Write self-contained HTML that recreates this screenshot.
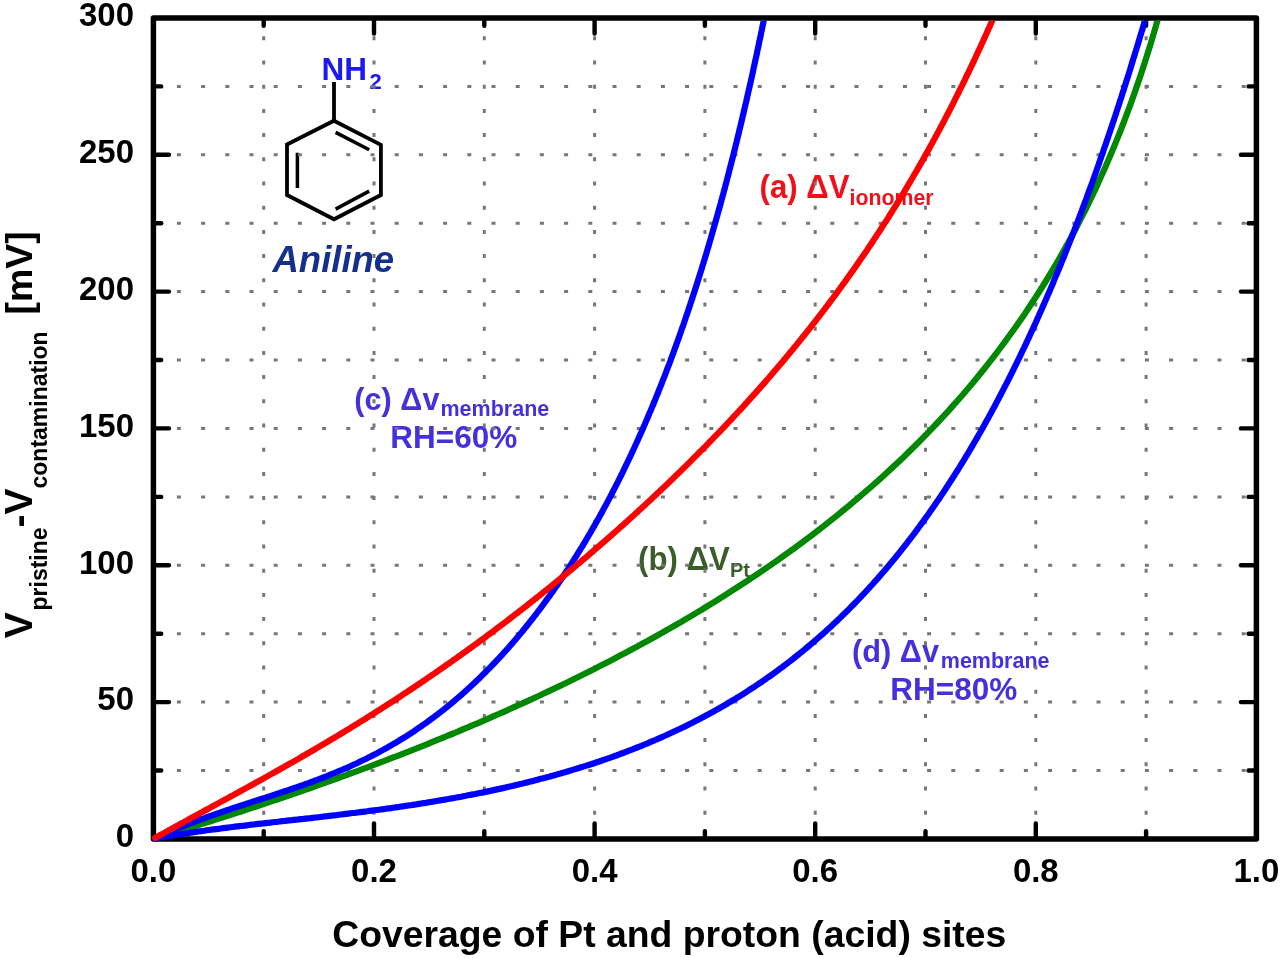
<!DOCTYPE html>
<html><head><meta charset="utf-8"><style>
html,body{margin:0;padding:0;background:#fff;width:1280px;height:958px;overflow:hidden}
svg{display:block;font-family:"Liberation Sans",sans-serif;font-weight:bold;filter:blur(0.5px)}
</style></head><body>
<svg width="1280" height="958" viewBox="0 0 1280 958">
<rect width="1280" height="958" fill="#fff"/>
<g fill="#f0101a">
<text transform="translate(759.5,197.6) scale(0.96,1)" font-size="32.5">(a) &#916;V</text>
<text transform="translate(849.5,204.8) scale(0.97,1)" font-size="22">ionomer</text>
</g>
<g fill="#3a5e2a">
<text transform="translate(638.1,570.3) scale(0.96,1)" font-size="32.5">(b) &#916;V</text>
<text transform="translate(730,576.6)" font-size="20">Pt</text>
</g>
<g fill="#4630dc">
<text transform="translate(354.3,409.5) scale(0.96,1)" font-size="32">(c) &#916;v</text>
<text transform="translate(440.5,415.8)" font-size="21.5">membrane</text>
<text transform="translate(390.3,448.3) scale(0.985,1)" font-size="32">RH=60%</text>
</g>
<g transform="translate(497.8,252)" fill="#4630dc">
<text transform="translate(354.3,409.5) scale(0.96,1)" font-size="32">(d) &#916;v</text>
<text transform="translate(443,415.8)" font-size="21.5">membrane</text>
<text transform="translate(392.5,448.3) scale(0.985,1)" font-size="32">RH=80%</text>
</g>
<g stroke="#000" stroke-width="3.8" fill="none" stroke-linejoin="miter" stroke-linecap="butt">
<path d="M334,120.7 L380.9,144.9 L380.9,195 L334,219.3 L287,195 L287,144.5 Z"/>
<path d="M334,120.7 L334,82"/>
<path stroke-width="3.5" d="M297.4,152.8 L297.4,188 M335.6,132.4 L369.2,149.8 M335.6,209.1 L369.2,191.1"/>
</g>
<text x="321.5" y="80" font-size="31.5" fill="#1a1af5">NH</text>
<text x="369.5" y="89.3" font-size="22" fill="#1a1af5">2</text>
<text x="272.5" y="271.5" font-size="36.5" font-style="italic" fill="#15308a">Aniline</text>
<g stroke="#777777" stroke-width="3" stroke-dasharray="4 20.2" fill="none">
<line x1="263.7" y1="36.3" x2="263.7" y2="835.9"/>
<line x1="374.0" y1="36.3" x2="374.0" y2="835.9"/>
<line x1="484.3" y1="36.3" x2="484.3" y2="835.9"/>
<line x1="594.6" y1="36.3" x2="594.6" y2="835.9"/>
<line x1="704.9" y1="36.3" x2="704.9" y2="835.9"/>
<line x1="815.2" y1="36.3" x2="815.2" y2="835.9"/>
<line x1="925.5" y1="36.3" x2="925.5" y2="835.9"/>
<line x1="1035.8" y1="36.3" x2="1035.8" y2="835.9"/>
<line x1="1146.1" y1="36.3" x2="1146.1" y2="835.9"/>
<line x1="176.9" y1="770.5" x2="1253.4" y2="770.5"/>
<line x1="176.9" y1="702.1" x2="1253.4" y2="702.1"/>
<line x1="176.9" y1="633.7" x2="1253.4" y2="633.7"/>
<line x1="176.9" y1="565.3" x2="1253.4" y2="565.3"/>
<line x1="176.9" y1="496.9" x2="1253.4" y2="496.9"/>
<line x1="176.9" y1="428.4" x2="1253.4" y2="428.4"/>
<line x1="176.9" y1="360.0" x2="1253.4" y2="360.0"/>
<line x1="176.9" y1="291.6" x2="1253.4" y2="291.6"/>
<line x1="176.9" y1="223.2" x2="1253.4" y2="223.2"/>
<line x1="176.9" y1="154.8" x2="1253.4" y2="154.8"/>
<line x1="176.9" y1="86.4" x2="1253.4" y2="86.4"/>
</g>
<g stroke="#000" stroke-width="4.4" stroke-linecap="round" fill="none">
<line x1="263.7" y1="838.9" x2="263.7" y2="831.1"/>
<line x1="263.7" y1="18.0" x2="263.7" y2="25.8"/>
<line x1="374.0" y1="838.9" x2="374.0" y2="823.4"/>
<line x1="374.0" y1="18.0" x2="374.0" y2="33.5"/>
<line x1="484.3" y1="838.9" x2="484.3" y2="831.1"/>
<line x1="484.3" y1="18.0" x2="484.3" y2="25.8"/>
<line x1="594.6" y1="838.9" x2="594.6" y2="823.4"/>
<line x1="594.6" y1="18.0" x2="594.6" y2="33.5"/>
<line x1="704.9" y1="838.9" x2="704.9" y2="831.1"/>
<line x1="704.9" y1="18.0" x2="704.9" y2="25.8"/>
<line x1="815.2" y1="838.9" x2="815.2" y2="823.4"/>
<line x1="815.2" y1="18.0" x2="815.2" y2="33.5"/>
<line x1="925.5" y1="838.9" x2="925.5" y2="831.1"/>
<line x1="925.5" y1="18.0" x2="925.5" y2="25.8"/>
<line x1="1035.8" y1="838.9" x2="1035.8" y2="823.4"/>
<line x1="1035.8" y1="18.0" x2="1035.8" y2="33.5"/>
<line x1="1146.1" y1="838.9" x2="1146.1" y2="831.1"/>
<line x1="1146.1" y1="18.0" x2="1146.1" y2="25.8"/>
<line x1="153.4" y1="770.5" x2="161.2" y2="770.5"/>
<line x1="1256.4" y1="770.5" x2="1248.6" y2="770.5"/>
<line x1="153.4" y1="702.1" x2="168.9" y2="702.1"/>
<line x1="1256.4" y1="702.1" x2="1240.9" y2="702.1"/>
<line x1="153.4" y1="633.7" x2="161.2" y2="633.7"/>
<line x1="1256.4" y1="633.7" x2="1248.6" y2="633.7"/>
<line x1="153.4" y1="565.3" x2="168.9" y2="565.3"/>
<line x1="1256.4" y1="565.3" x2="1240.9" y2="565.3"/>
<line x1="153.4" y1="496.9" x2="161.2" y2="496.9"/>
<line x1="1256.4" y1="496.9" x2="1248.6" y2="496.9"/>
<line x1="153.4" y1="428.4" x2="168.9" y2="428.4"/>
<line x1="1256.4" y1="428.4" x2="1240.9" y2="428.4"/>
<line x1="153.4" y1="360.0" x2="161.2" y2="360.0"/>
<line x1="1256.4" y1="360.0" x2="1248.6" y2="360.0"/>
<line x1="153.4" y1="291.6" x2="168.9" y2="291.6"/>
<line x1="1256.4" y1="291.6" x2="1240.9" y2="291.6"/>
<line x1="153.4" y1="223.2" x2="161.2" y2="223.2"/>
<line x1="1256.4" y1="223.2" x2="1248.6" y2="223.2"/>
<line x1="153.4" y1="154.8" x2="168.9" y2="154.8"/>
<line x1="1256.4" y1="154.8" x2="1240.9" y2="154.8"/>
<line x1="153.4" y1="86.4" x2="161.2" y2="86.4"/>
<line x1="1256.4" y1="86.4" x2="1248.6" y2="86.4"/>
</g>
<rect x="153.4" y="18.0" width="1103.0" height="820.9" fill="none" stroke="#000" stroke-width="5.5" stroke-linejoin="round"/>
<clipPath id="pc"><rect x="140" y="20.75" width="1120" height="830"/></clipPath>
<g clip-path="url(#pc)" fill="none" stroke-width="6.2" stroke-linecap="round" stroke-linejoin="round">
<path stroke="#008800" d="M155.1,838.4 L160.1,836.9 L165.2,835.3 L170.2,833.8 L175.3,832.3 L180.3,830.7 L185.4,829.1 L190.4,827.6 L195.5,826.0 L200.5,824.4 L205.6,822.8 L210.7,821.2 L215.7,819.6 L220.8,818.0 L225.8,816.4 L230.9,814.8 L235.9,813.1 L241.0,811.5 L246.0,809.8 L251.1,808.1 L256.2,806.5 L261.2,804.8 L266.3,803.1 L271.3,801.4 L276.4,799.7 L281.4,798.0 L286.5,796.3 L291.5,794.5 L296.6,792.8 L301.6,791.0 L306.7,789.3 L311.8,787.5 L316.8,785.7 L321.9,783.9 L326.9,782.1 L332.0,780.3 L337.0,778.5 L342.1,776.6 L347.1,774.8 L352.2,772.9 L357.3,771.1 L362.3,769.2 L367.4,767.3 L372.4,765.4 L377.5,763.5 L382.5,761.6 L387.6,759.7 L392.6,757.7 L397.7,755.8 L402.7,753.8 L407.8,751.8 L412.9,749.8 L417.9,747.8 L423.0,745.8 L428.0,743.8 L433.1,741.7 L438.1,739.7 L443.2,737.6 L448.2,735.5 L453.3,733.5 L458.4,731.3 L463.4,729.2 L468.5,727.1 L473.5,724.9 L478.6,722.8 L483.6,720.6 L488.7,718.4 L493.7,716.2 L498.8,714.0 L503.8,711.8 L508.9,709.5 L514.0,707.2 L519.0,705.0 L524.1,702.7 L529.1,700.4 L534.2,698.0 L539.2,695.7 L544.3,693.3 L549.3,690.9 L554.4,688.5 L559.5,686.1 L564.5,683.7 L569.6,681.2 L574.6,678.8 L579.7,676.3 L584.7,673.8 L589.8,671.2 L594.8,668.7 L599.9,666.1 L604.9,663.5 L610.0,660.9 L615.1,658.3 L620.1,655.6 L625.2,653.0 L630.2,650.3 L635.3,647.6 L640.3,644.8 L645.4,642.1 L650.4,639.3 L655.5,636.5 L660.5,633.6 L665.6,630.8 L670.7,627.9 L675.7,625.0 L680.8,622.1 L685.8,619.1 L690.9,616.1 L695.9,613.1 L701.0,610.1 L706.0,607.0 L711.1,603.9 L716.2,600.8 L721.2,597.6 L726.3,594.4 L731.3,591.2 L736.4,587.9 L741.4,584.6 L746.5,581.3 L751.5,578.0 L756.6,574.6 L761.6,571.2 L766.7,567.7 L771.8,564.2 L776.8,560.7 L781.9,557.1 L786.9,553.5 L792.0,549.9 L797.0,546.2 L802.1,542.4 L807.1,538.7 L812.2,534.9 L817.3,531.0 L822.3,527.1 L827.4,523.1 L832.4,519.1 L837.5,515.1 L842.5,511.0 L847.6,506.8 L852.6,502.6 L857.7,498.4 L862.7,494.0 L867.8,489.7 L872.9,485.2 L877.9,480.8 L883.0,476.2 L888.0,471.6 L893.1,466.9 L898.1,462.2 L903.2,457.4 L908.2,452.5 L913.3,447.5 L918.4,442.5 L923.4,437.4 L928.5,432.2 L933.5,426.9 L938.6,421.5 L943.6,416.1 L948.7,410.6 L953.7,404.9 L958.8,399.2 L963.8,393.4 L968.9,387.5 L974.0,381.4 L979.0,375.3 L984.1,369.0 L989.1,362.6 L994.2,356.1 L999.2,349.5 L1004.3,342.7 L1009.3,335.8 L1014.4,328.7 L1019.5,321.5 L1024.5,314.2 L1029.6,306.6 L1034.6,298.9 L1039.7,291.0 L1044.7,283.0 L1049.8,274.7 L1054.8,266.2 L1059.9,257.5 L1064.9,248.6 L1070.0,239.4 L1075.1,230.0 L1080.1,220.2 L1085.2,210.3 L1090.2,199.9 L1095.3,189.3 L1100.3,178.3 L1105.4,167.0 L1110.4,155.3 L1115.5,143.1 L1120.6,130.5 L1125.6,117.4 L1130.7,103.8 L1135.7,89.6 L1140.8,74.8 L1145.8,59.3 L1150.9,43.1 L1155.9,26.0 L1161.0,8.1"/>
<path stroke="#0000ff" d="M155.1,838.6 L157.4,838.2 L159.7,837.7 L162.1,837.3 L164.4,836.9 L166.7,836.5 L169.1,836.1 L171.4,835.7 L173.8,835.3 L176.1,834.9 L178.5,834.5 L180.8,834.1 L183.2,833.8 L185.5,833.4 L187.9,833.1 L190.2,832.7 L192.6,832.4 L194.9,832.0 L197.3,831.7 L199.6,831.3 L202.0,831.0 L204.3,830.7 L206.7,830.3 L209.0,830.0 L211.4,829.7 L213.7,829.4 L216.1,829.1 L218.5,828.8 L220.8,828.5 L223.2,828.2 L225.5,827.9 L227.9,827.6 L230.2,827.3 L232.6,827.0 L235.0,826.7 L237.3,826.4 L239.7,826.1 L242.0,825.8 L244.4,825.6 L246.8,825.3 L249.1,825.0 L251.5,824.7 L253.8,824.5 L256.2,824.2 L258.6,823.9 L260.9,823.6 L263.3,823.4 L265.6,823.1 L268.0,822.8 L270.4,822.6 L272.7,822.3 L275.1,822.0 L277.5,821.8 L279.8,821.5 L282.2,821.2 L284.5,821.0 L286.9,820.7 L289.3,820.4 L291.6,820.2 L294.0,819.9 L296.4,819.7 L298.7,819.4 L301.1,819.1 L303.4,818.9 L305.8,818.6 L308.2,818.3 L310.5,818.1 L312.9,817.8 L315.2,817.5 L317.6,817.3 L320.0,817.0 L322.3,816.7 L324.7,816.4 L327.0,816.2 L329.4,815.9 L331.8,815.6 L334.1,815.3 L336.5,815.1 L338.8,814.8 L341.2,814.5 L343.6,814.2 L345.9,813.9 L348.3,813.6 L350.6,813.3 L353.0,813.0 L355.4,812.8 L357.7,812.5 L360.1,812.2 L362.4,811.9 L364.8,811.6 L367.1,811.3 L369.5,810.9 L371.9,810.6 L374.2,810.3 L376.6,810.0 L378.9,809.7 L381.3,809.4 L383.6,809.1 L386.0,808.7 L388.3,808.4 L390.7,808.1 L393.1,807.7 L395.4,807.4 L397.8,807.1 L400.1,806.7 L402.5,806.4 L404.8,806.0 L407.2,805.7 L409.5,805.3 L411.9,805.0 L414.2,804.6 L416.6,804.3 L418.9,803.9 L421.3,803.5 L423.6,803.1 L426.0,802.8 L428.3,802.4 L430.6,802.0 L433.0,801.6 L435.3,801.2 L437.7,800.8 L440.0,800.4 L442.4,800.0 L444.7,799.6 L447.0,799.2 L449.4,798.8 L451.7,798.4 L454.1,798.0 L456.4,797.5 L458.7,797.1 L461.1,796.7 L463.4,796.2 L465.7,795.8 L468.1,795.3 L470.4,794.9 L472.7,794.4 L475.1,794.0 L477.4,793.5 L479.7,793.0 L482.1,792.6 L484.4,792.1 L486.7,791.6 L489.0,791.1 L491.4,790.6 L493.7,790.1 L496.0,789.6 L498.3,789.1 L500.7,788.6 L503.0,788.1 L505.3,787.6 L507.6,787.0 L509.9,786.5 L512.2,786.0 L514.6,785.4 L516.9,784.9 L519.2,784.3 L521.5,783.8 L523.8,783.2 L526.1,782.6 L528.4,782.1 L530.7,781.5 L533.0,780.9 L535.3,780.3 L537.6,779.7 L539.9,779.1 L542.2,778.5 L544.5,777.9 L546.8,777.3 L549.1,776.7 L551.4,776.0 L553.7,775.4 L556.0,774.8 L558.3,774.1 L560.6,773.5 L562.8,772.8 L565.1,772.2 L567.4,771.5 L569.7,770.8 L572.0,770.1 L574.2,769.4 L576.5,768.7 L578.8,768.0 L581.0,767.3 L583.3,766.6 L585.6,765.9 L587.8,765.2 L590.1,764.5 L592.4,763.7 L594.6,763.0 L596.9,762.2 L599.1,761.5 L601.4,760.7 L603.6,759.9 L605.9,759.2 L608.1,758.4 L610.4,757.6 L612.6,756.8 L614.8,756.0 L617.1,755.2 L619.3,754.3 L621.5,753.5 L623.8,752.7 L626.0,751.8 L628.2,751.0 L630.4,750.1 L632.6,749.3 L634.8,748.4 L637.1,747.5 L639.3,746.7 L641.5,745.8 L643.7,744.9 L645.9,744.0 L648.1,743.1 L650.2,742.1 L652.4,741.2 L654.6,740.3 L656.8,739.3 L659.0,738.4 L661.2,737.4 L663.3,736.5 L665.5,735.5 L667.7,734.5 L669.8,733.5 L672.0,732.5 L674.1,731.5 L676.3,730.5 L678.4,729.5 L680.6,728.5 L682.7,727.5 L684.9,726.4 L687.0,725.4 L689.1,724.3 L691.3,723.3 L693.4,722.2 L695.5,721.1 L697.6,720.0 L699.7,718.9 L701.8,717.8 L703.9,716.7 L706.0,715.6 L708.1,714.5 L710.2,713.3 L712.3,712.2 L714.4,711.0 L716.4,709.9 L718.5,708.7 L720.6,707.5 L722.6,706.3 L724.7,705.2 L726.7,704.0 L728.8,702.7 L730.8,701.5 L732.9,700.3 L734.9,699.1 L736.9,697.8 L739.0,696.6 L741.0,695.3 L743.0,694.1 L745.0,692.8 L747.0,691.5 L749.0,690.2 L751.0,688.9 L753.0,687.6 L755.0,686.3 L756.9,685.0 L758.9,683.7 L760.9,682.4 L762.8,681.0 L764.8,679.7 L766.7,678.3 L768.7,676.9 L770.6,675.6 L772.6,674.2 L774.5,672.8 L776.4,671.4 L778.3,670.0 L780.2,668.6 L782.1,667.2 L784.0,665.7 L785.9,664.3 L787.8,662.9 L789.7,661.4 L791.6,660.0 L793.5,658.5 L795.3,657.0 L797.2,655.5 L799.0,654.0 L800.9,652.6 L802.7,651.1 L804.6,649.5 L806.4,648.0 L808.2,646.5 L810.0,645.0 L811.8,643.4 L813.7,641.9 L815.5,640.3 L817.2,638.8 L819.0,637.2 L820.8,635.6 L822.6,634.1 L824.4,632.5 L826.1,630.9 L827.9,629.3 L829.6,627.7 L831.4,626.1 L833.1,624.4 L834.9,622.8 L836.6,621.2 L838.3,619.5 L840.0,617.9 L841.7,616.2 L843.4,614.6 L845.1,612.9 L846.8,611.3 L848.5,609.6 L850.2,607.9 L851.8,606.2 L853.5,604.5 L855.2,602.8 L856.8,601.1 L858.5,599.4 L860.1,597.7 L861.7,595.9 L863.4,594.2 L865.0,592.5 L866.6,590.7 L868.2,589.0 L869.8,587.2 L871.4,585.5 L873.0,583.7 L874.6,581.9 L876.2,580.2 L877.8,578.4 L879.3,576.6 L880.9,574.8 L882.4,573.0 L884.0,571.2 L885.5,569.4 L887.1,567.6 L888.6,565.8 L890.1,563.9 L891.7,562.1 L893.2,560.3 L894.7,558.5 L896.2,556.6 L897.7,554.8 L899.2,552.9 L900.6,551.1 L902.1,549.2 L903.6,547.3 L905.1,545.5 L906.5,543.6 L908.0,541.7 L909.4,539.8 L910.9,537.9 L912.3,536.1 L913.8,534.2 L915.2,532.3 L916.6,530.4 L918.0,528.4 L919.4,526.5 L920.8,524.6 L922.2,522.7 L923.6,520.8 L925.0,518.8 L926.4,516.9 L927.8,515.0 L929.2,513.0 L930.5,511.1 L931.9,509.1 L933.2,507.2 L934.6,505.2 L935.9,503.3 L937.3,501.3 L938.6,499.4 L940.0,497.4 L941.3,495.4 L942.6,493.4 L943.9,491.5 L945.2,489.5 L946.5,487.5 L947.8,485.5 L949.1,483.5 L950.4,481.5 L951.7,479.5 L953.0,477.5 L954.3,475.5 L955.5,473.5 L956.8,471.5 L958.1,469.5 L959.3,467.5 L960.6,465.4 L961.8,463.4 L963.1,461.4 L964.3,459.4 L965.5,457.3 L966.8,455.3 L968.0,453.3 L969.2,451.2 L970.4,449.2 L971.6,447.1 L972.8,445.1 L974.0,443.0 L975.2,441.0 L976.4,438.9 L977.6,436.9 L978.8,434.8 L980.0,432.7 L981.1,430.7 L982.3,428.6 L983.5,426.5 L984.6,424.5 L985.8,422.4 L986.9,420.3 L988.1,418.2 L989.2,416.1 L990.4,414.0 L991.5,412.0 L992.6,409.9 L993.8,407.8 L994.9,405.7 L996.0,403.6 L997.1,401.5 L998.2,399.4 L999.3,397.3 L1000.4,395.2 L1001.5,393.1 L1002.6,391.0 L1003.7,388.9 L1004.8,386.7 L1005.9,384.6 L1007.0,382.5 L1008.1,380.4 L1009.1,378.3 L1010.2,376.1 L1011.3,374.0 L1012.3,371.9 L1013.4,369.8 L1014.4,367.6 L1015.5,365.5 L1016.5,363.4 L1017.6,361.2 L1018.6,359.1 L1019.7,357.0 L1020.7,354.8 L1021.7,352.7 L1022.7,350.5 L1023.8,348.4 L1024.8,346.2 L1025.8,344.1 L1026.8,341.9 L1027.8,339.8 L1028.8,337.6 L1029.8,335.5 L1030.8,333.3 L1031.8,331.2 L1032.8,329.0 L1033.8,326.8 L1034.8,324.7 L1035.8,322.5 L1036.7,320.3 L1037.7,318.2 L1038.7,316.0 L1039.6,313.8 L1040.6,311.7 L1041.6,309.5 L1042.5,307.3 L1043.5,305.1 L1044.4,303.0 L1045.4,300.8 L1046.3,298.6 L1047.3,296.4 L1048.2,294.2 L1049.2,292.1 L1050.1,289.9 L1051.0,287.7 L1052.0,285.5 L1052.9,283.3 L1053.8,281.1 L1054.7,278.9 L1055.6,276.7 L1056.6,274.5 L1057.5,272.4 L1058.4,270.2 L1059.3,268.0 L1060.2,265.8 L1061.1,263.6 L1062.0,261.4 L1062.9,259.2 L1063.8,257.0 L1064.7,254.8 L1065.5,252.5 L1066.4,250.3 L1067.3,248.1 L1068.2,245.9 L1069.1,243.7 L1069.9,241.5 L1070.8,239.3 L1071.7,237.1 L1072.5,234.9 L1073.4,232.7 L1074.3,230.4 L1075.1,228.2 L1076.0,226.0 L1076.8,223.8 L1077.7,221.6 L1078.5,219.3 L1079.4,217.1 L1080.2,214.9 L1081.1,212.7 L1081.9,210.5 L1082.7,208.2 L1083.6,206.0 L1084.4,203.8 L1085.2,201.6 L1086.1,199.3 L1086.9,197.1 L1087.7,194.9 L1088.5,192.6 L1089.3,190.4 L1090.1,188.2 L1091.0,185.9 L1091.8,183.7 L1092.6,181.5 L1093.4,179.2 L1094.2,177.0 L1095.0,174.8 L1095.8,172.5 L1096.6,170.3 L1097.4,168.0 L1098.2,165.8 L1099.0,163.6 L1099.7,161.3 L1100.5,159.1 L1101.3,156.8 L1102.1,154.6 L1102.9,152.3 L1103.6,150.1 L1104.4,147.8 L1105.2,145.6 L1106.0,143.4 L1106.7,141.1 L1107.5,138.9 L1108.3,136.6 L1109.0,134.4 L1109.8,132.1 L1110.5,129.8 L1111.3,127.6 L1112.1,125.3 L1112.8,123.1 L1113.6,120.8 L1114.3,118.6 L1115.1,116.3 L1115.8,114.1 L1116.5,111.8 L1117.3,109.5 L1118.0,107.3 L1118.8,105.0 L1119.5,102.8 L1120.2,100.5 L1121.0,98.2 L1121.7,96.0 L1122.4,93.7 L1123.1,91.5 L1123.9,89.2 L1124.6,86.9 L1125.3,84.7 L1126.0,82.4 L1126.7,80.1 L1127.5,77.9 L1128.2,75.6 L1128.9,73.3 L1129.6,71.1 L1130.3,68.8 L1131.0,66.5 L1131.7,64.3 L1132.4,62.0 L1133.1,59.7 L1133.8,57.4 L1134.5,55.2 L1135.2,52.9 L1135.9,50.6 L1136.6,48.4 L1137.3,46.1 L1138.0,43.8 L1138.7,41.5 L1139.4,39.3 L1140.0,37.0 L1140.7,34.7 L1141.4,32.4 L1142.1,30.2 L1142.8,27.9 L1143.4,25.6 L1144.1,23.3 L1144.8,21.0 L1145.5,18.8 L1146.1,16.5 L1146.8,14.2 L1147.5,11.9 L1148.1,9.6"/>
<path stroke="#0000ff" d="M155.1,838.1 L156.7,837.4 L158.4,836.6 L160.1,835.9 L161.8,835.1 L163.5,834.4 L165.2,833.7 L166.8,832.9 L168.5,832.2 L170.2,831.5 L171.9,830.8 L173.6,830.1 L175.3,829.4 L177.0,828.7 L178.7,828.0 L180.4,827.3 L182.1,826.6 L183.9,825.9 L185.6,825.2 L187.3,824.6 L189.0,823.9 L190.7,823.2 L192.4,822.6 L194.2,821.9 L195.9,821.3 L197.6,820.6 L199.3,820.0 L201.1,819.3 L202.8,818.7 L204.5,818.1 L206.2,817.4 L208.0,816.8 L209.7,816.2 L211.4,815.6 L213.2,815.0 L214.9,814.4 L216.7,813.8 L218.4,813.2 L220.1,812.6 L221.9,812.0 L223.6,811.4 L225.4,810.8 L227.1,810.2 L228.9,809.6 L230.6,809.0 L232.3,808.4 L234.1,807.8 L235.8,807.3 L237.6,806.7 L239.3,806.1 L241.1,805.5 L242.8,805.0 L244.6,804.4 L246.3,803.8 L248.1,803.3 L249.8,802.7 L251.6,802.1 L253.3,801.5 L255.1,801.0 L256.8,800.4 L258.6,799.8 L260.3,799.3 L262.1,798.7 L263.9,798.1 L265.6,797.6 L267.4,797.0 L269.1,796.4 L270.9,795.9 L272.6,795.3 L274.4,794.7 L276.1,794.1 L277.9,793.6 L279.6,793.0 L281.3,792.4 L283.1,791.8 L284.8,791.2 L286.6,790.7 L288.3,790.1 L290.1,789.5 L291.8,788.9 L293.6,788.3 L295.3,787.7 L297.0,787.1 L298.8,786.5 L300.5,785.9 L302.2,785.3 L304.0,784.6 L305.7,784.0 L307.5,783.4 L309.2,782.8 L310.9,782.1 L312.6,781.5 L314.4,780.9 L316.1,780.2 L317.8,779.6 L319.5,778.9 L321.3,778.3 L323.0,777.6 L324.7,776.9 L326.4,776.3 L328.1,775.6 L329.8,774.9 L331.5,774.2 L333.2,773.5 L334.9,772.8 L336.6,772.1 L338.3,771.4 L340.0,770.7 L341.7,770.0 L343.4,769.2 L345.1,768.5 L346.8,767.8 L348.5,767.0 L350.2,766.3 L351.8,765.5 L353.5,764.7 L355.2,764.0 L356.9,763.2 L358.5,762.4 L360.2,761.6 L361.8,760.8 L363.5,760.0 L365.2,759.2 L366.8,758.4 L368.4,757.6 L370.1,756.7 L371.7,755.9 L373.4,755.1 L375.0,754.2 L376.6,753.4 L378.3,752.5 L379.9,751.6 L381.5,750.8 L383.1,749.9 L384.7,749.0 L386.3,748.1 L387.9,747.2 L389.5,746.3 L391.1,745.4 L392.7,744.4 L394.3,743.5 L395.9,742.6 L397.5,741.6 L399.1,740.7 L400.6,739.7 L402.2,738.7 L403.8,737.8 L405.3,736.8 L406.9,735.8 L408.4,734.8 L410.0,733.8 L411.5,732.8 L413.1,731.8 L414.6,730.8 L416.1,729.7 L417.6,728.7 L419.2,727.7 L420.7,726.6 L422.2,725.6 L423.7,724.5 L425.2,723.5 L426.7,722.4 L428.2,721.3 L429.7,720.2 L431.2,719.1 L432.6,718.0 L434.1,716.9 L435.6,715.8 L437.1,714.7 L438.5,713.6 L440.0,712.5 L441.4,711.3 L442.9,710.2 L444.3,709.1 L445.8,707.9 L447.2,706.8 L448.6,705.6 L450.0,704.4 L451.5,703.3 L452.9,702.1 L454.3,700.9 L455.7,699.7 L457.1,698.5 L458.5,697.3 L459.9,696.1 L461.3,694.9 L462.6,693.7 L464.0,692.5 L465.4,691.2 L466.8,690.0 L468.1,688.8 L469.5,687.5 L470.8,686.3 L472.2,685.0 L473.5,683.8 L474.9,682.5 L476.2,681.2 L477.5,680.0 L478.9,678.7 L480.2,677.4 L481.5,676.1 L482.8,674.8 L484.1,673.5 L485.4,672.2 L486.7,670.9 L488.0,669.6 L489.3,668.3 L490.6,667.0 L491.9,665.6 L493.1,664.3 L494.4,663.0 L495.7,661.7 L496.9,660.3 L498.2,659.0 L499.5,657.6 L500.7,656.3 L502.0,654.9 L503.2,653.6 L504.4,652.2 L505.7,650.8 L506.9,649.4 L508.1,648.1 L509.3,646.7 L510.5,645.3 L511.8,643.9 L513.0,642.5 L514.2,641.1 L515.4,639.7 L516.6,638.3 L517.7,636.9 L518.9,635.5 L520.1,634.1 L521.3,632.7 L522.5,631.3 L523.6,629.8 L524.8,628.4 L525.9,627.0 L527.1,625.5 L528.2,624.1 L529.4,622.7 L530.5,621.2 L531.7,619.8 L532.8,618.3 L533.9,616.9 L535.1,615.4 L536.2,614.0 L537.3,612.5 L538.4,611.0 L539.5,609.6 L540.6,608.1 L541.7,606.6 L542.8,605.1 L543.9,603.7 L545.0,602.2 L546.1,600.7 L547.2,599.2 L548.3,597.7 L549.4,596.2 L550.4,594.7 L551.5,593.2 L552.6,591.7 L553.6,590.2 L554.7,588.7 L555.7,587.2 L556.8,585.7 L557.8,584.2 L558.9,582.6 L559.9,581.1 L560.9,579.6 L562.0,578.1 L563.0,576.5 L564.0,575.0 L565.0,573.5 L566.0,571.9 L567.1,570.4 L568.1,568.9 L569.1,567.3 L570.1,565.8 L571.1,564.2 L572.1,562.7 L573.0,561.1 L574.0,559.6 L575.0,558.0 L576.0,556.5 L577.0,554.9 L577.9,553.3 L578.9,551.8 L579.9,550.2 L580.8,548.6 L581.8,547.1 L582.8,545.5 L583.7,543.9 L584.7,542.3 L585.6,540.8 L586.5,539.2 L587.5,537.6 L588.4,536.0 L589.3,534.4 L590.3,532.8 L591.2,531.2 L592.1,529.6 L593.0,528.0 L594.0,526.4 L594.9,524.8 L595.8,523.2 L596.7,521.6 L597.6,520.0 L598.5,518.4 L599.4,516.8 L600.3,515.2 L601.2,513.6 L602.0,512.0 L602.9,510.4 L603.8,508.7 L604.7,507.1 L605.6,505.5 L606.4,503.9 L607.3,502.3 L608.2,500.6 L609.0,499.0 L609.9,497.4 L610.7,495.8 L611.6,494.1 L612.4,492.5 L613.3,490.8 L614.1,489.2 L615.0,487.6 L615.8,485.9 L616.6,484.3 L617.5,482.7 L618.3,481.0 L619.1,479.4 L619.9,477.7 L620.8,476.1 L621.6,474.4 L622.4,472.8 L623.2,471.1 L624.0,469.5 L624.8,467.8 L625.6,466.1 L626.4,464.5 L627.2,462.8 L628.0,461.2 L628.8,459.5 L629.6,457.8 L630.4,456.2 L631.2,454.5 L631.9,452.8 L632.7,451.2 L633.5,449.5 L634.3,447.8 L635.0,446.2 L635.8,444.5 L636.6,442.8 L637.3,441.1 L638.1,439.4 L638.8,437.8 L639.6,436.1 L640.3,434.4 L641.1,432.7 L641.8,431.0 L642.6,429.4 L643.3,427.7 L644.0,426.0 L644.8,424.3 L645.5,422.6 L646.2,420.9 L647.0,419.2 L647.7,417.5 L648.4,415.8 L649.1,414.1 L649.8,412.4 L650.6,410.8 L651.3,409.1 L652.0,407.4 L652.7,405.7 L653.4,404.0 L654.1,402.3 L654.8,400.6 L655.5,398.8 L656.2,397.1 L656.9,395.4 L657.6,393.7 L658.3,392.0 L658.9,390.3 L659.6,388.6 L660.3,386.9 L661.0,385.2 L661.7,383.5 L662.3,381.8 L663.0,380.0 L663.7,378.3 L664.4,376.6 L665.0,374.9 L665.7,373.2 L666.3,371.5 L667.0,369.7 L667.7,368.0 L668.3,366.3 L669.0,364.6 L669.6,362.9 L670.3,361.1 L670.9,359.4 L671.5,357.7 L672.2,356.0 L672.8,354.2 L673.5,352.5 L674.1,350.8 L674.7,349.0 L675.4,347.3 L676.0,345.6 L676.6,343.8 L677.2,342.1 L677.9,340.4 L678.5,338.6 L679.1,336.9 L679.7,335.2 L680.3,333.4 L680.9,331.7 L681.5,330.0 L682.1,328.2 L682.8,326.5 L683.4,324.8 L684.0,323.0 L684.6,321.3 L685.2,319.5 L685.7,317.8 L686.3,316.0 L686.9,314.3 L687.5,312.6 L688.1,310.8 L688.7,309.1 L689.3,307.3 L689.9,305.6 L690.4,303.8 L691.0,302.1 L691.6,300.3 L692.2,298.6 L692.7,296.8 L693.3,295.1 L693.9,293.3 L694.5,291.6 L695.0,289.8 L695.6,288.1 L696.1,286.3 L696.7,284.6 L697.3,282.8 L697.8,281.1 L698.4,279.3 L698.9,277.5 L699.5,275.8 L700.0,274.0 L700.6,272.3 L701.1,270.5 L701.7,268.8 L702.2,267.0 L702.7,265.2 L703.3,263.5 L703.8,261.7 L704.4,260.0 L704.9,258.2 L705.4,256.4 L706.0,254.7 L706.5,252.9 L707.0,251.1 L707.5,249.4 L708.1,247.6 L708.6,245.8 L709.1,244.1 L709.6,242.3 L710.1,240.5 L710.7,238.8 L711.2,237.0 L711.7,235.2 L712.2,233.5 L712.7,231.7 L713.2,229.9 L713.7,228.2 L714.2,226.4 L714.7,224.6 L715.2,222.9 L715.7,221.1 L716.2,219.3 L716.7,217.5 L717.2,215.8 L717.7,214.0 L718.2,212.2 L718.7,210.4 L719.2,208.7 L719.7,206.9 L720.2,205.1 L720.7,203.3 L721.1,201.6 L721.6,199.8 L722.1,198.0 L722.6,196.2 L723.1,194.5 L723.6,192.7 L724.0,190.9 L724.5,189.1 L725.0,187.3 L725.4,185.6 L725.9,183.8 L726.4,182.0 L726.9,180.2 L727.3,178.4 L727.8,176.7 L728.3,174.9 L728.7,173.1 L729.2,171.3 L729.6,169.5 L730.1,167.7 L730.5,166.0 L731.0,164.2 L731.5,162.4 L731.9,160.6 L732.4,158.8 L732.8,157.0 L733.3,155.3 L733.7,153.5 L734.2,151.7 L734.6,149.9 L735.1,148.1 L735.5,146.3 L735.9,144.5 L736.4,142.8 L736.8,141.0 L737.3,139.2 L737.7,137.4 L738.1,135.6 L738.6,133.8 L739.0,132.0 L739.4,130.2 L739.9,128.4 L740.3,126.7 L740.7,124.9 L741.1,123.1 L741.6,121.3 L742.0,119.5 L742.4,117.7 L742.8,115.9 L743.3,114.1 L743.7,112.3 L744.1,110.5 L744.5,108.7 L744.9,106.9 L745.4,105.1 L745.8,103.4 L746.2,101.6 L746.6,99.8 L747.0,98.0 L747.4,96.2 L747.8,94.4 L748.2,92.6 L748.6,90.8 L749.0,89.0 L749.5,87.2 L749.9,85.4 L750.3,83.6 L750.7,81.8 L751.1,80.0 L751.5,78.2 L751.9,76.4 L752.3,74.6 L752.7,72.8 L753.1,71.0 L753.4,69.2 L753.8,67.4 L754.2,65.6 L754.6,63.8 L755.0,62.0 L755.4,60.2 L755.8,58.4 L756.2,56.6 L756.6,54.8 L757.0,53.0 L757.3,51.2 L757.7,49.4 L758.1,47.6 L758.5,45.8 L758.9,44.0 L759.2,42.2 L759.6,40.4 L760.0,38.6 L760.4,36.8 L760.8,35.0 L761.1,33.2 L761.5,31.4 L761.9,29.6 L762.2,27.8 L762.6,26.0 L763.0,24.2 L763.4,22.4 L763.7,20.6 L764.1,18.8 L764.5,17.0 L764.8,15.2 L765.2,13.4 L765.6,11.6 L765.9,9.8"/>
<path stroke="#ff0000" d="M155.1,838.0 L156.8,837.0 L158.6,836.0 L160.3,835.0 L162.1,834.1 L163.9,833.1 L165.6,832.1 L167.4,831.1 L169.1,830.1 L170.9,829.2 L172.7,828.2 L174.4,827.2 L176.2,826.3 L178.0,825.3 L179.7,824.3 L181.5,823.3 L183.3,822.4 L185.0,821.4 L186.8,820.4 L188.6,819.5 L190.3,818.5 L192.1,817.5 L193.9,816.6 L195.6,815.6 L197.4,814.7 L199.2,813.7 L200.9,812.7 L202.7,811.8 L204.5,810.8 L206.3,809.8 L208.0,808.9 L209.8,807.9 L211.6,806.9 L213.3,806.0 L215.1,805.0 L216.9,804.1 L218.6,803.1 L220.4,802.1 L222.2,801.2 L223.9,800.2 L225.7,799.2 L227.5,798.3 L229.2,797.3 L231.0,796.3 L232.8,795.4 L234.6,794.4 L236.3,793.4 L238.1,792.5 L239.9,791.5 L241.6,790.5 L243.4,789.6 L245.1,788.6 L246.9,787.6 L248.7,786.7 L250.4,785.7 L252.2,784.7 L254.0,783.7 L255.7,782.8 L257.5,781.8 L259.3,780.8 L261.0,779.8 L262.8,778.9 L264.5,777.9 L266.3,776.9 L268.1,775.9 L269.8,774.9 L271.6,773.9 L273.3,773.0 L275.1,772.0 L276.8,771.0 L278.6,770.0 L280.4,769.0 L282.1,768.0 L283.9,767.0 L285.6,766.0 L287.4,765.0 L289.1,764.0 L290.9,763.1 L292.6,762.1 L294.4,761.1 L296.1,760.1 L297.9,759.1 L299.6,758.1 L301.4,757.0 L303.1,756.0 L304.9,755.0 L306.6,754.0 L308.3,753.0 L310.1,752.0 L311.8,751.0 L313.6,750.0 L315.3,749.0 L317.0,747.9 L318.8,746.9 L320.5,745.9 L322.2,744.9 L324.0,743.8 L325.7,742.8 L327.4,741.8 L329.2,740.8 L330.9,739.7 L332.6,738.7 L334.4,737.7 L336.1,736.6 L337.8,735.6 L339.5,734.6 L341.3,733.5 L343.0,732.5 L344.7,731.4 L346.4,730.4 L348.2,729.3 L349.9,728.3 L351.6,727.2 L353.3,726.2 L355.0,725.1 L356.7,724.1 L358.5,723.0 L360.2,721.9 L361.9,720.9 L363.6,719.8 L365.3,718.8 L367.0,717.7 L368.7,716.6 L370.4,715.5 L372.1,714.5 L373.8,713.4 L375.5,712.3 L377.2,711.2 L378.9,710.2 L380.6,709.1 L382.3,708.0 L384.0,706.9 L385.7,705.8 L387.4,704.7 L389.1,703.6 L390.8,702.5 L392.5,701.5 L394.2,700.4 L395.9,699.3 L397.6,698.2 L399.3,697.1 L400.9,696.0 L402.6,694.8 L404.3,693.7 L406.0,692.6 L407.7,691.5 L409.3,690.4 L411.0,689.3 L412.7,688.2 L414.4,687.1 L416.0,685.9 L417.7,684.8 L419.4,683.7 L421.1,682.6 L422.7,681.4 L424.4,680.3 L426.1,679.2 L427.7,678.0 L429.4,676.9 L431.1,675.8 L432.7,674.6 L434.4,673.5 L436.0,672.3 L437.7,671.2 L439.3,670.0 L441.0,668.9 L442.7,667.7 L444.3,666.6 L446.0,665.4 L447.6,664.3 L449.3,663.1 L450.9,662.0 L452.6,660.8 L454.2,659.6 L455.8,658.5 L457.5,657.3 L459.1,656.1 L460.8,655.0 L462.4,653.8 L464.0,652.6 L465.7,651.5 L467.3,650.3 L468.9,649.1 L470.6,647.9 L472.2,646.7 L473.8,645.5 L475.5,644.4 L477.1,643.2 L478.7,642.0 L480.3,640.8 L482.0,639.6 L483.6,638.4 L485.2,637.2 L486.8,636.0 L488.4,634.8 L490.1,633.6 L491.7,632.4 L493.3,631.2 L494.9,630.0 L496.5,628.8 L498.1,627.6 L499.7,626.4 L501.3,625.1 L502.9,623.9 L504.5,622.7 L506.2,621.5 L507.8,620.3 L509.4,619.0 L511.0,617.8 L512.6,616.6 L514.1,615.4 L515.7,614.1 L517.3,612.9 L518.9,611.7 L520.5,610.4 L522.1,609.2 L523.7,608.0 L525.3,606.7 L526.9,605.5 L528.5,604.2 L530.0,603.0 L531.6,601.7 L533.2,600.5 L534.8,599.2 L536.4,598.0 L537.9,596.7 L539.5,595.5 L541.1,594.2 L542.7,593.0 L544.2,591.7 L545.8,590.4 L547.4,589.2 L548.9,587.9 L550.5,586.7 L552.1,585.4 L553.6,584.1 L555.2,582.8 L556.8,581.6 L558.3,580.3 L559.9,579.0 L561.4,577.7 L563.0,576.5 L564.6,575.2 L566.1,573.9 L567.7,572.6 L569.2,571.3 L570.8,570.0 L572.3,568.8 L573.9,567.5 L575.4,566.2 L576.9,564.9 L578.5,563.6 L580.0,562.3 L581.6,561.0 L583.1,559.7 L584.6,558.4 L586.2,557.1 L587.7,555.8 L589.2,554.5 L590.8,553.2 L592.3,551.8 L593.8,550.5 L595.4,549.2 L596.9,547.9 L598.4,546.6 L599.9,545.3 L601.5,543.9 L603.0,542.6 L604.5,541.3 L606.0,540.0 L607.5,538.7 L609.0,537.3 L610.6,536.0 L612.1,534.7 L613.6,533.3 L615.1,532.0 L616.6,530.7 L618.1,529.3 L619.6,528.0 L621.1,526.6 L622.6,525.3 L624.1,524.0 L625.6,522.6 L627.1,521.3 L628.6,519.9 L630.1,518.6 L631.6,517.2 L633.1,515.9 L634.6,514.5 L636.1,513.1 L637.6,511.8 L639.0,510.4 L640.5,509.1 L642.0,507.7 L643.5,506.3 L645.0,505.0 L646.4,503.6 L647.9,502.2 L649.4,500.9 L650.9,499.5 L652.3,498.1 L653.8,496.7 L655.3,495.4 L656.7,494.0 L658.2,492.6 L659.7,491.2 L661.1,489.8 L662.6,488.4 L664.1,487.0 L665.5,485.7 L667.0,484.3 L668.4,482.9 L669.9,481.5 L671.3,480.1 L672.8,478.7 L674.2,477.3 L675.7,475.9 L677.1,474.5 L678.6,473.1 L680.0,471.7 L681.5,470.3 L682.9,468.9 L684.3,467.4 L685.8,466.0 L687.2,464.6 L688.6,463.2 L690.1,461.8 L691.5,460.4 L692.9,458.9 L694.3,457.5 L695.8,456.1 L697.2,454.7 L698.6,453.2 L700.0,451.8 L701.4,450.4 L702.9,448.9 L704.3,447.5 L705.7,446.1 L707.1,444.6 L708.5,443.2 L709.9,441.7 L711.3,440.3 L712.7,438.8 L714.1,437.4 L715.5,435.9 L716.9,434.5 L718.3,433.0 L719.7,431.6 L721.1,430.1 L722.5,428.7 L723.9,427.2 L725.3,425.8 L726.6,424.3 L728.0,422.8 L729.4,421.4 L730.8,419.9 L732.2,418.4 L733.5,416.9 L734.9,415.5 L736.3,414.0 L737.6,412.5 L739.0,411.0 L740.4,409.6 L741.7,408.1 L743.1,406.6 L744.5,405.1 L745.8,403.6 L747.2,402.1 L748.5,400.6 L749.9,399.1 L751.2,397.6 L752.6,396.1 L753.9,394.6 L755.3,393.1 L756.6,391.6 L757.9,390.1 L759.3,388.6 L760.6,387.1 L761.9,385.6 L763.3,384.1 L764.6,382.6 L765.9,381.1 L767.2,379.5 L768.6,378.0 L769.9,376.5 L771.2,375.0 L772.5,373.4 L773.8,371.9 L775.1,370.4 L776.5,368.9 L777.8,367.3 L779.1,365.8 L780.4,364.2 L781.7,362.7 L783.0,361.2 L784.3,359.6 L785.6,358.1 L786.8,356.5 L788.1,355.0 L789.4,353.4 L790.7,351.9 L792.0,350.3 L793.3,348.8 L794.5,347.2 L795.8,345.7 L797.1,344.1 L798.4,342.5 L799.6,341.0 L800.9,339.4 L802.2,337.8 L803.4,336.3 L804.7,334.7 L805.9,333.1 L807.2,331.5 L808.4,330.0 L809.7,328.4 L810.9,326.8 L812.2,325.2 L813.4,323.6 L814.7,322.0 L815.9,320.5 L817.1,318.9 L818.4,317.3 L819.6,315.7 L820.8,314.1 L822.1,312.5 L823.3,310.9 L824.5,309.3 L825.7,307.7 L826.9,306.1 L828.2,304.5 L829.4,302.8 L830.6,301.2 L831.8,299.6 L833.0,298.0 L834.2,296.4 L835.4,294.8 L836.6,293.1 L837.8,291.5 L839.0,289.9 L840.1,288.3 L841.3,286.6 L842.5,285.0 L843.7,283.4 L844.9,281.8 L846.1,280.1 L847.2,278.5 L848.4,276.8 L849.6,275.2 L850.7,273.6 L851.9,271.9 L853.1,270.3 L854.2,268.6 L855.4,267.0 L856.5,265.3 L857.7,263.7 L858.8,262.0 L860.0,260.3 L861.1,258.7 L862.2,257.0 L863.4,255.4 L864.5,253.7 L865.7,252.0 L866.8,250.4 L867.9,248.7 L869.0,247.0 L870.2,245.4 L871.3,243.7 L872.4,242.0 L873.5,240.3 L874.6,238.6 L875.7,237.0 L876.8,235.3 L877.9,233.6 L879.0,231.9 L880.1,230.2 L881.2,228.5 L882.3,226.8 L883.4,225.1 L884.5,223.4 L885.6,221.8 L886.7,220.1 L887.8,218.4 L888.8,216.7 L889.9,214.9 L891.0,213.2 L892.1,211.5 L893.1,209.8 L894.2,208.1 L895.3,206.4 L896.3,204.7 L897.4,203.0 L898.4,201.3 L899.5,199.5 L900.5,197.8 L901.6,196.1 L902.6,194.4 L903.7,192.7 L904.7,190.9 L905.7,189.2 L906.8,187.5 L907.8,185.7 L908.8,184.0 L909.9,182.3 L910.9,180.5 L911.9,178.8 L912.9,177.1 L913.9,175.3 L914.9,173.6 L916.0,171.8 L917.0,170.1 L918.0,168.4 L919.0,166.6 L920.0,164.9 L921.0,163.1 L922.0,161.4 L923.0,159.6 L924.0,157.9 L924.9,156.1 L925.9,154.3 L926.9,152.6 L927.9,150.8 L928.9,149.1 L929.8,147.3 L930.8,145.5 L931.8,143.8 L932.8,142.0 L933.7,140.2 L934.7,138.5 L935.6,136.7 L936.6,134.9 L937.6,133.1 L938.5,131.4 L939.5,129.6 L940.4,127.8 L941.3,126.0 L942.3,124.3 L943.2,122.5 L944.2,120.7 L945.1,118.9 L946.0,117.1 L947.0,115.3 L947.9,113.5 L948.8,111.8 L949.7,110.0 L950.7,108.2 L951.6,106.4 L952.5,104.6 L953.4,102.8 L954.3,101.0 L955.2,99.2 L956.1,97.4 L957.0,95.6 L957.9,93.8 L958.8,92.0 L959.7,90.2 L960.6,88.4 L961.5,86.6 L962.4,84.8 L963.3,83.0 L964.2,81.2 L965.1,79.3 L965.9,77.5 L966.8,75.7 L967.7,73.9 L968.6,72.1 L969.4,70.3 L970.3,68.5 L971.2,66.6 L972.0,64.8 L972.9,63.0 L973.8,61.2 L974.6,59.4 L975.5,57.5 L976.3,55.7 L977.2,53.9 L978.0,52.0 L978.9,50.2 L979.7,48.4 L980.6,46.6 L981.4,44.7 L982.2,42.9 L983.1,41.1 L983.9,39.2 L984.7,37.4 L985.6,35.6 L986.4,33.7 L987.2,31.9 L988.0,30.0 L988.9,28.2 L989.7,26.4 L990.5,24.5 L991.3,22.7 L992.1,20.8 L992.9,19.0 L993.7,17.1 L994.5,15.3 L995.3,13.4 L996.1,11.6 L996.9,9.7"/>
</g>
<g font-size="34" fill="#000">
<text transform="translate(134.0,847.2) scale(0.970,1)" text-anchor="end">0</text>
<text transform="translate(134.0,710.4) scale(0.970,1)" text-anchor="end">50</text>
<text transform="translate(134.0,573.6) scale(0.970,1)" text-anchor="end">100</text>
<text transform="translate(134.0,436.8) scale(0.970,1)" text-anchor="end">150</text>
<text transform="translate(134.0,299.9) scale(0.970,1)" text-anchor="end">200</text>
<text transform="translate(134.0,163.1) scale(0.970,1)" text-anchor="end">250</text>
<text transform="translate(134.0,26.3) scale(0.970,1)" text-anchor="end">300</text>
<text transform="translate(153.4,881.6) scale(0.970,1)" text-anchor="middle">0.0</text>
<text transform="translate(374.0,881.6) scale(0.970,1)" text-anchor="middle">0.2</text>
<text transform="translate(594.6,881.6) scale(0.970,1)" text-anchor="middle">0.4</text>
<text transform="translate(815.2,881.6) scale(0.970,1)" text-anchor="middle">0.6</text>
<text transform="translate(1035.8,881.6) scale(0.970,1)" text-anchor="middle">0.8</text>
<text transform="translate(1256.4,881.6) scale(0.970,1)" text-anchor="middle">1.0</text>
</g>
<text x="332.2" y="947" font-size="37.35" fill="#000">Coverage of Pt and proton (acid) sites</text>
<g fill="#000">
<text transform="translate(32,638.2) rotate(-90)" font-size="39">V</text>
<text transform="translate(46.8,610.5) rotate(-90)" font-size="23">pristine</text>
<text transform="translate(32,527.5) rotate(-90)" font-size="39">-</text>
<text transform="translate(32,514.6) rotate(-90)" font-size="39">V</text>
<text transform="translate(46.8,488.5) rotate(-90)" font-size="23">contamination</text>
<text transform="translate(32,314.5) rotate(-90)" font-size="37.5">[mV]</text>
</g>
</svg>
</body></html>
